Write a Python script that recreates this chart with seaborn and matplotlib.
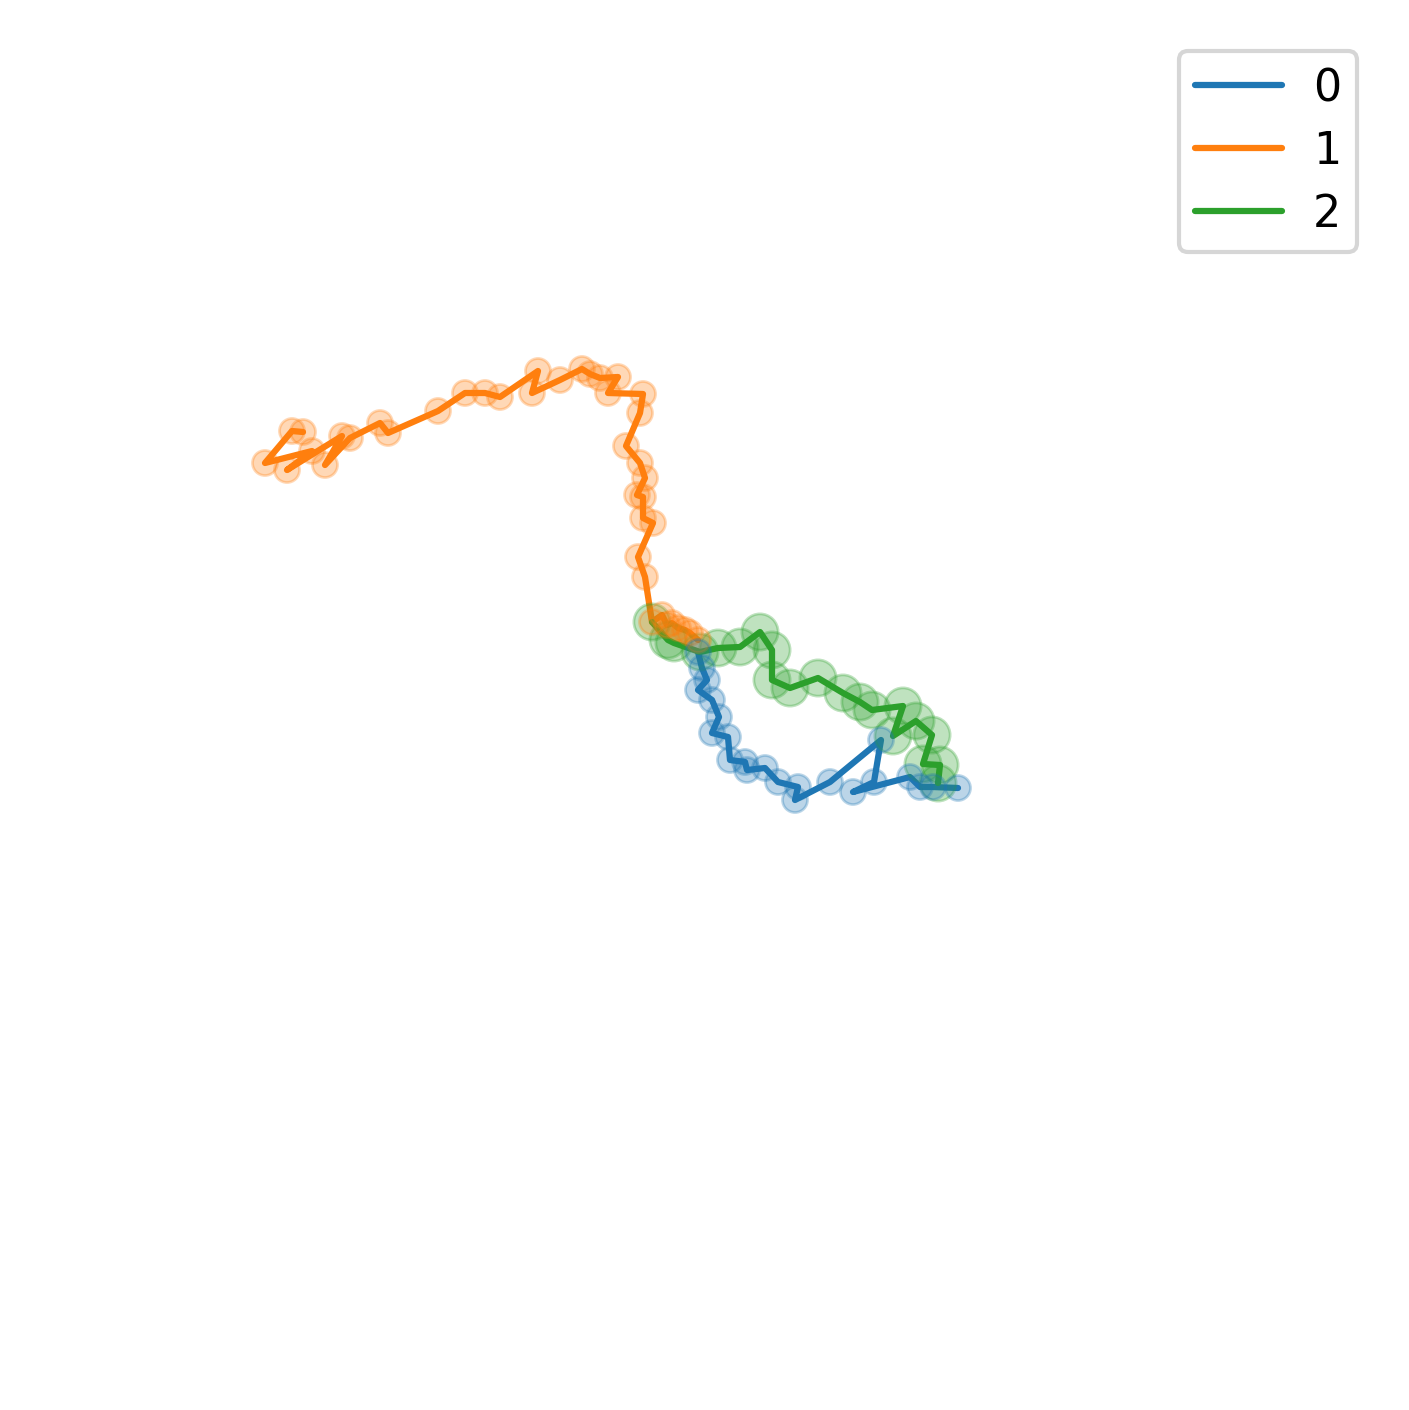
import numpy as np
import pandas as pd
import matplotlib
matplotlib.use("Agg")
import matplotlib.pyplot as plt
import seaborn as sns

# Walker paths (x, y)
walkers = ["0", "1", "2"]

blue_x = [69.8, 70.2, 70.7, 69.8, 71.2, 71.9, 71.2, 72.8, 73.0, 74.5,
          74.7, 76.5, 77.8, 79.8, 79.5, 83.0, 88.1, 87.4, 85.3, 91.0,
          92.0, 93.3, 95.8]
blue_y = [-65.2, -66.8, -68.0, -69.0, -70.0, -71.7, -73.3, -73.7, -76.0, -76.2,
          -77.0, -76.8, -78.2, -78.7, -80.0, -78.2, -74.0, -78.2, -79.2, -77.7,
          -78.7, -78.7, -78.8]

orange_x = [69.8, 69.0, 68.5, 67.8, 67.2, 66.7, 66.2, 65.2, 64.5, 63.8,
            65.3, 64.3, 64.3, 63.7, 64.5, 64.0, 62.6, 64.0, 64.3, 60.8,
            61.8, 60.0, 59.0, 58.2, 56.0, 53.2, 53.8, 50.0, 48.5, 46.5,
            43.8, 38.8, 38.0, 35.0, 32.5, 34.2, 28.7, 31.2, 26.5, 29.2,
            30.3]
orange_y = [-64.0, -63.3, -63.0, -62.8, -62.3, -62.5, -61.5, -62.2, -57.7, -55.7,
            -52.3, -51.8, -49.7, -49.5, -47.8, -46.3, -44.6, -41.3, -39.4, -39.3,
            -37.7, -37.8, -37.4, -36.9, -38.0, -39.3, -37.1, -39.7, -39.3, -39.3,
            -41.1, -43.3, -42.3, -43.8, -46.5, -43.6, -47.0, -45.1, -46.3, -43.1,
            -43.2]

green_x = [65.2, 66.8, 67.4, 70.0, 71.8, 74.0, 76.0, 77.2, 77.2, 79.0,
           81.8, 84.3, 86.0, 87.2, 90.3, 89.3, 91.6, 93.2, 92.3, 94.0,
           93.8]
green_y = [-62.2, -64.0, -64.3, -65.2, -64.8, -64.7, -63.2, -65.0, -68.0, -68.8,
           -67.8, -69.3, -70.2, -71.0, -70.6, -73.6, -72.1, -73.5, -76.4, -76.5,
           -78.3]

frames = []
for name, xs, ys in zip(walkers, [blue_x, orange_x, green_x], [blue_y, orange_y, green_y]):
    frames.append(pd.DataFrame({"walker": name, "step": np.arange(len(xs)), "x": xs, "y": ys}))
df = pd.concat(frames, ignore_index=True)

sns.set_theme(style="white", context="talk",
              rc={"text.color": "black", "legend.fontsize": 16})

fig = plt.figure(figsize=(7.045, 7.05), dpi=200)
ax = fig.add_axes([0, 0, 1, 1])

sns.lineplot(data=df, x="x", y="y", hue="walker", hue_order=walkers,
             palette="tab10", sort=False, estimator=None, units="walker",
             ax=ax)
# markers: later walkers drawn first so earlier ones sit on top
df_pts = pd.concat([df[df["walker"] == w] for w in reversed(walkers)], ignore_index=True)
sns.scatterplot(data=df_pts, x="x", y="y", hue="walker", hue_order=walkers,
                palette="tab10", size="walker",
                sizes={"0": 81, "1": 81, "2": 170},
                alpha=0.3, edgecolor="face", linewidth=1.0,
                legend=False, zorder=3, ax=ax)

ax.set_xlim(0, 140.9)
ax.set_ylim(-141.0, 0)
ax.set_axis_off()

sns.move_legend(ax, "upper right", bbox_to_anchor=(1357 / 1409, 1 - 51 / 1410),
                borderaxespad=0, title=None, frameon=True, labelspacing=0.45,
                borderpad=0.36, handletextpad=0.7, handlelength=1.95)

fig.savefig("out.png", dpi=200)
